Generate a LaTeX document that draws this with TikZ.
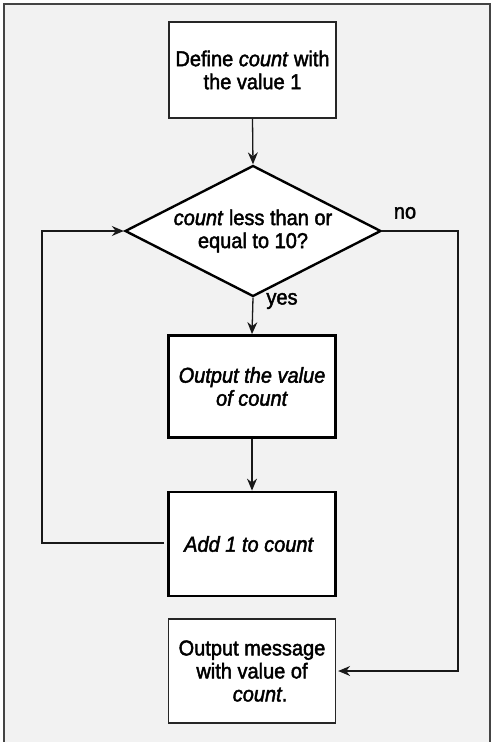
\documentclass[tikz,border=0pt]{standalone}
\usepackage{fontspec}
\setmainfont{Liberation Sans}[FakeStretch=0.93,FakeBold=2]
\usetikzlibrary{shapes.geometric,arrows.meta}
\definecolor{bgc}{HTML}{F2F2F2}
\definecolor{framec}{HTML}{444444}
\begin{document}
\begin{tikzpicture}[x=1pt,y=-1pt,
  txt/.style={font=\fontsize{21.5}{23}\selectfont},
  box/.style={txt, draw=black!85, fill=white, line width=1.3pt, minimum width=167pt,
    minimum height=104pt, inner sep=0pt, align=center},
  boldbox/.style={box, draw=black, line width=2.8pt},
  decision/.style={txt, diamond, aspect=1.95, draw=black, fill=white, line width=2.4pt,
    minimum width=256pt, minimum height=131pt, inner sep=0pt, align=center},
  conn/.style={line width=1.3pt, draw=black!90},
  arr/.style={conn, -{Stealth[length=12pt,width=10pt,inset=4pt]}},
  lbl/.style={txt, inner sep=0pt}]
\useasboundingbox (0,0) rectangle (495,742);
\fill[bgc] (4,4) rectangle (490,742);
\draw[framec, line width=1.5pt] (4,742) -- (4,4) -- (490,4) -- (490,742);

\node[box, minimum height=96pt] (define) at (252.5,70) {Define \textit{count} with\\the value 1};
\node[decision] (test) at (253,231) {\textit{count} less than or\\equal to 10?};
\node[boldbox, minimum height=102pt] (output) at (252,386.5) {\textit{Output the value}\\\textit{of count}};
\node[boldbox] (add) at (252,544) {\hspace{-6pt}\textit{Add 1 to count}};
\node[box] (message) at (252,671) {Output message\\with value of\\\hspace{16pt}\textit{count}.};

\coordinate (loopL) at (42,543);
\coordinate (noR) at (458,231);

\draw[arr] (define.south) -- (test.north);
\draw[arr] (test.south) -- (output.north);
\draw[arr] (output.south) -- (add.north);
\draw[arr] ([xshift=-3pt]add.west |- loopL) -- (loopL) |- (test.west);
\draw[arr] (test.east) -- (noR) |- ([xshift=2pt]message.east |- 0,671);

\node[lbl] (yes) at (282,301) {yes};
\node[lbl] (no) at (405,213) {no};
\end{tikzpicture}
\end{document}
